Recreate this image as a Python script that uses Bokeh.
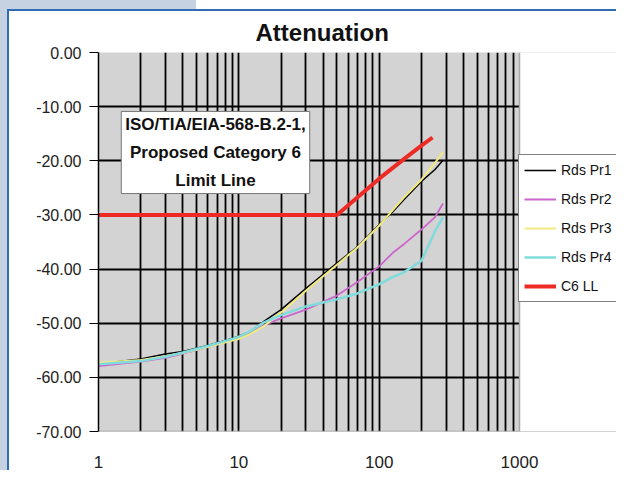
from bokeh.plotting import figure
from bokeh.models import (FixedTicker, PrintfTickFormatter, Legend, LegendItem,
                          Label, Range1d, BoxAnnotation, Span)
from bokeh.embed import file_html
from bokeh.resources import INLINE

# ---- data ----
freq = [1, 2, 3, 4, 6, 9, 10, 12, 15, 20, 30, 50, 70, 100, 125, 150, 200, 250, 285]
rds_pr1 = [-57.5, -56.6, -55.7, -55.2, -54.1, -52.8, -52.4, -51.6, -49.7, -47.5,
           -43.6, -38.9, -35.9, -31.8, -29.4, -27.2, -23.8, -21.6, -19.9]
rds_pr2 = [-57.9, -57.1, -56.4, -55.6, -54.4, -53.1, -52.7, -51.8, -50.4, -49.1,
           -47.5, -44.9, -42.4, -39.5, -37.0, -35.4, -32.7, -30.4, -27.9]
rds_pr3 = [-57.3, -56.8, -56.1, -55.5, -54.4, -53.2, -52.9, -52.0, -50.6, -48.0,
           -44.0, -39.2, -36.0, -32.0, -29.1, -26.8, -23.5, -20.4, -18.4]
rds_pr4 = [-57.6, -57.0, -56.2, -55.4, -54.2, -52.9, -52.5, -51.5, -49.9, -48.5,
           -46.9, -45.6, -44.5, -42.8, -41.5, -40.6, -38.5, -33.0, -30.4]
ll_freq = [1, 50, 100, 150, 200, 240]
c6_ll = [-30.0, -30.0, -23.3, -19.7, -17.2, -15.7]

series_names = ["Rds Pr1", "Rds Pr2", "Rds Pr3", "Rds Pr4", "C6 LL"]
x_ticks = [1, 10, 100, 1000]
y_ticks = [0, -10, -20, -30, -40, -50, -60, -70]
x_grid = [m * 10 ** d for d in range(3) for m in range(1, 10)][1:]
y_grid = y_ticks[:-1]

FONT = "Liberation Sans"

# layout: plot area spans 98..519 px for 1..1000; frame continues to canvas edge
W, H = 616, 470
LEFT, TOP, BOTTOM = 98, 52, 39
PLOT_W = 421
x_end = 10 ** (3 * (W - LEFT) / PLOT_W)

p = figure(width=W, height=H, x_axis_type="log",
           x_range=Range1d(1, x_end), y_range=Range1d(-70, 0),
           output_backend="svg", toolbar_location=None,
           min_border_left=LEFT, min_border_right=0,
           min_border_top=TOP, min_border_bottom=BOTTOM)

# page-like decoration behind the transparent canvas border
p.border_fill_alpha = 0.0
p.styles = {
    "background": (
        "linear-gradient(#2f6cb4,#2f6cb4) 7px 9px / 2px calc(100% - 9px) no-repeat, "
        "linear-gradient(#2f6cb4,#2f6cb4) 7px 9px / calc(100% - 7px) 2px no-repeat, "
        "linear-gradient(#c6d1e2,#c6d1e2) 0 0 / 7px 100% no-repeat, "
        "linear-gradient(#c6d1e2,#c6d1e2) 0 0 / 196px 9px no-repeat, "
        "#ffffff"
    )
}

p.background_fill_color = "#d3d3d3"
p.outline_line_color = None

# title
p.title.text = "Attenuation"
p.title.align = "left"
p.title.offset = 157
p.title.standoff = 13
p.title.text_font = FONT
p.title.text_font_style = "bold"
p.title.text_font_size = "24px"
p.title.text_color = "#111111"

# grids
p.xgrid.ticker = FixedTicker(ticks=x_grid)
p.ygrid.ticker = FixedTicker(ticks=y_grid)
for g in (p.xgrid, p.ygrid):
    g.grid_line_color = "black"
    g.grid_line_width = 1.8
    g.grid_line_alpha = 1.0

# axes
p.xaxis.ticker = FixedTicker(ticks=x_ticks, minor_ticks=[])
p.xaxis.formatter = PrintfTickFormatter(format="%d")
p.xaxis.axis_line_color = None
p.xaxis.major_tick_line_color = None
p.xaxis.minor_tick_line_color = None
p.xaxis.major_label_standoff = 18
p.xaxis.major_label_text_font = FONT
p.xaxis.major_label_text_font_size = "17px"
p.xaxis.major_label_text_color = "#222222"

p.yaxis.ticker = FixedTicker(ticks=y_ticks, minor_ticks=[])
p.yaxis.formatter = PrintfTickFormatter(format="%.2f")
p.yaxis.axis_line_color = "black"
p.yaxis.axis_line_width = 1.5
p.yaxis.major_tick_out = 9
p.yaxis.major_tick_in = 0
p.yaxis.major_tick_line_color = "black"
p.yaxis.minor_tick_line_color = None
p.yaxis.major_label_standoff = 8
p.yaxis.major_label_text_font = FONT
p.yaxis.major_label_text_font_size = "16px"
p.yaxis.major_label_text_color = "#222222"

# lines
r1 = p.line(freq, rds_pr1, line_color="black", line_width=1.5)
r2 = p.line(freq, rds_pr2, line_color="#cc66cc", line_width=1.8)
r3 = p.line(freq, rds_pr3, line_color="#f2ea80", line_width=2)
r4 = p.line(freq, rds_pr4, line_color="#80dcdc", line_width=2.5)
r5 = p.line(ll_freq, c6_ll, line_color="#ee2a24", line_width=4)

# plot-area edges and white cover right of x=1000
p.add_layout(Span(location=y_ticks[-1], dimension="width",
                  line_color="#a0a0a0", line_width=1.5))
p.add_layout(BoxAnnotation(left=x_ticks[-1], fill_color="white", fill_alpha=1.0,
                           line_color=None))
p.add_layout(Span(location=x_ticks[-1], dimension="height",
                  line_color="#a8a8a8", line_width=1.5))

legend = Legend(items=[LegendItem(label=n, renderers=[r])
                       for n, r in zip(series_names, [r1, r2, r3, r4, r5])],
                location=(PLOT_W - 1, 129), orientation="vertical",
                padding=5, spacing=9, margin=0,
                label_height=20, glyph_height=20, glyph_width=32,
                label_standoff=5,
                label_text_font=FONT, label_text_font_size="14px",
                label_text_color="#111111",
                border_line_color="black", border_line_width=1,
                background_fill_color="white", background_fill_alpha=1.0)
p.add_layout(legend)

# annotation box
p.add_layout(Label(x=117, y=279, x_units="screen", y_units="screen",
                   text="ISO/TIA/EIA-568-B.2-1,\nProposed Category 6\nLimit Line",
                   text_align="center", text_baseline="middle",
                   text_font=FONT, text_font_style="bold",
                   text_font_size="17px", text_line_height=1.45,
                   text_color="#111111",
                   background_fill_color="white", background_fill_alpha=1.0,
                   border_line_color="#777777", border_line_width=1,
                   padding=4))

open("out.html", "w").write(file_html(p, INLINE))
